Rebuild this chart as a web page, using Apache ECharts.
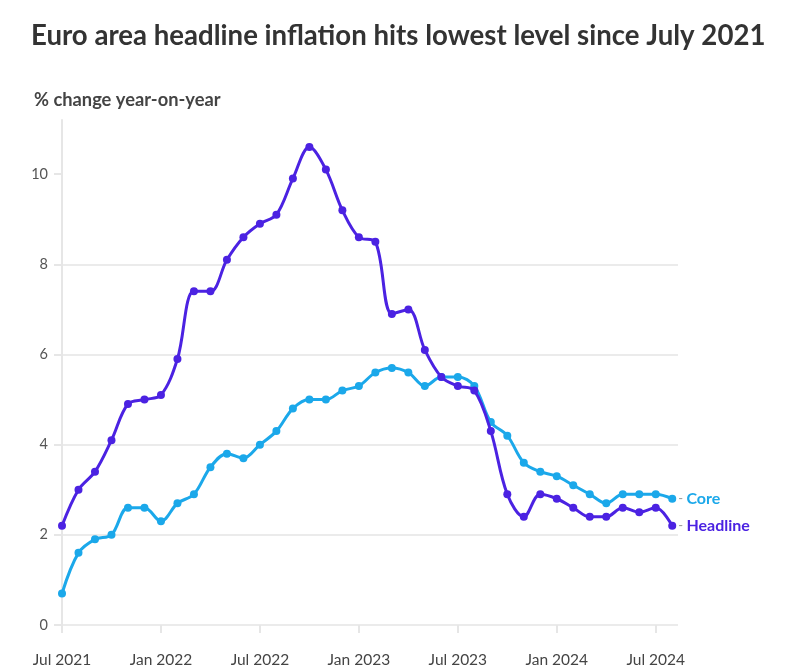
<!DOCTYPE html>
<html><head><meta charset="utf-8">
<script src="https://cdn.jsdelivr.net/npm/echarts@6/dist/echarts.min.js"></script>
<style>html,body{margin:0;padding:0;background:#fff}#c{width:793px;height:672px}</style>
</head><body><div id="c"></div>
<script>
const months = ["Jul 2021","Aug 2021","Sep 2021","Oct 2021","Nov 2021","Dec 2021","Jan 2022","Feb 2022","Mar 2022","Apr 2022","May 2022","Jun 2022","Jul 2022","Aug 2022","Sep 2022","Oct 2022","Nov 2022","Dec 2022","Jan 2023","Feb 2023","Mar 2023","Apr 2023","May 2023","Jun 2023","Jul 2023","Aug 2023","Sep 2023","Oct 2023","Nov 2023","Dec 2023","Jan 2024","Feb 2024","Mar 2024","Apr 2024","May 2024","Jun 2024","Jul 2024","Aug 2024"];
const headline = [2.2,3.0,3.4,4.1,4.9,5.0,5.1,5.9,7.4,7.4,8.1,8.6,8.9,9.1,9.9,10.6,10.1,9.2,8.6,8.5,6.9,7.0,6.1,5.5,5.3,5.2,4.3,2.9,2.4,2.9,2.8,2.6,2.4,2.4,2.6,2.5,2.6,2.2];
const core = [0.7,1.6,1.9,2.0,2.6,2.6,2.3,2.7,2.9,3.5,3.8,3.7,4.0,4.3,4.8,5.0,5.0,5.2,5.3,5.6,5.7,5.6,5.3,5.5,5.5,5.3,4.5,4.2,3.6,3.4,3.3,3.1,2.9,2.7,2.9,2.9,2.9,2.8];
const xTickLabels = ["Jul 2021","Jan 2022","Jul 2022","Jan 2023","Jul 2023","Jan 2024","Jul 2024"];
const yTicks = [0,2,4,6,8,10];

const FONT = 'Lato';
const toPairs = arr => arr.map((v,i)=>[i,v]);
const chart = echarts.init(document.getElementById('c'));
function endLbl(name,color){
  return {show:true, distance:6, formatter:'{d|-} {n|'+name+'}',
    rich:{d:{color:'#999',fontSize:13,fontFamily:FONT},n:{color:color,fontSize:16,fontWeight:'bold',fontFamily:FONT}}};
}
chart.setOption({
  animation:false,
  title:[
    {text:'Euro area headline inflation hits lowest level since July 2021',left:26,top:17,
     textStyle:{fontFamily:FONT,fontSize:27.6,fontWeight:'bold',color:'#333'}},
    {text:'% change year-on-year',left:29,top:86,
     textStyle:{fontFamily:FONT,fontSize:18.3,fontWeight:'bold',color:'#444'}}
  ],
  grid:{left:62,right:115,top:120,bottom:47,containLabel:false},
  xAxis:{type:'value',min:0,max:37.35,interval:6,
    axisLine:{show:false},
    axisTick:{show:true,length:8,lineStyle:{color:'#e6e6e6',width:2}},
    splitLine:{show:false},
    axisLabel:{showMaxLabel:false,margin:27,fontFamily:FONT,fontSize:15.5,color:'#444',
      formatter:v=>xTickLabels[Math.round(v/6)]||''}
  },
  yAxis:{type:'value',min:0,max:11.2,interval:2,
    axisLine:{show:true,lineStyle:{color:'#e6e6e6',width:2}},
    axisTick:{show:true,length:8,customValues:yTicks,lineStyle:{color:'#e6e6e6',width:2}},
    splitLine:{show:true,showMaxLine:false,lineStyle:{color:'#ebebeb',width:2}},
    axisLabel:{customValues:yTicks,margin:14,fontFamily:FONT,fontSize:14.5,color:'#555'}
  },
  series:[
    {name:'Core',type:'line',data:toPairs(core),smooth:0.35,symbol:'circle',symbolSize:8,
     lineStyle:{width:3,color:'#1BA8EA'},itemStyle:{color:'#1BA8EA'},
     endLabel:endLbl('Core','#1BA8EA'),z:2},
    {name:'Headline',type:'line',data:toPairs(headline),smooth:0.35,symbol:'circle',symbolSize:8,
     lineStyle:{width:3,color:'#4B22E2'},itemStyle:{color:'#4B22E2'},
     endLabel:endLbl('Headline','#4B22E2'),z:3}
  ]
});
</script></body></html>
